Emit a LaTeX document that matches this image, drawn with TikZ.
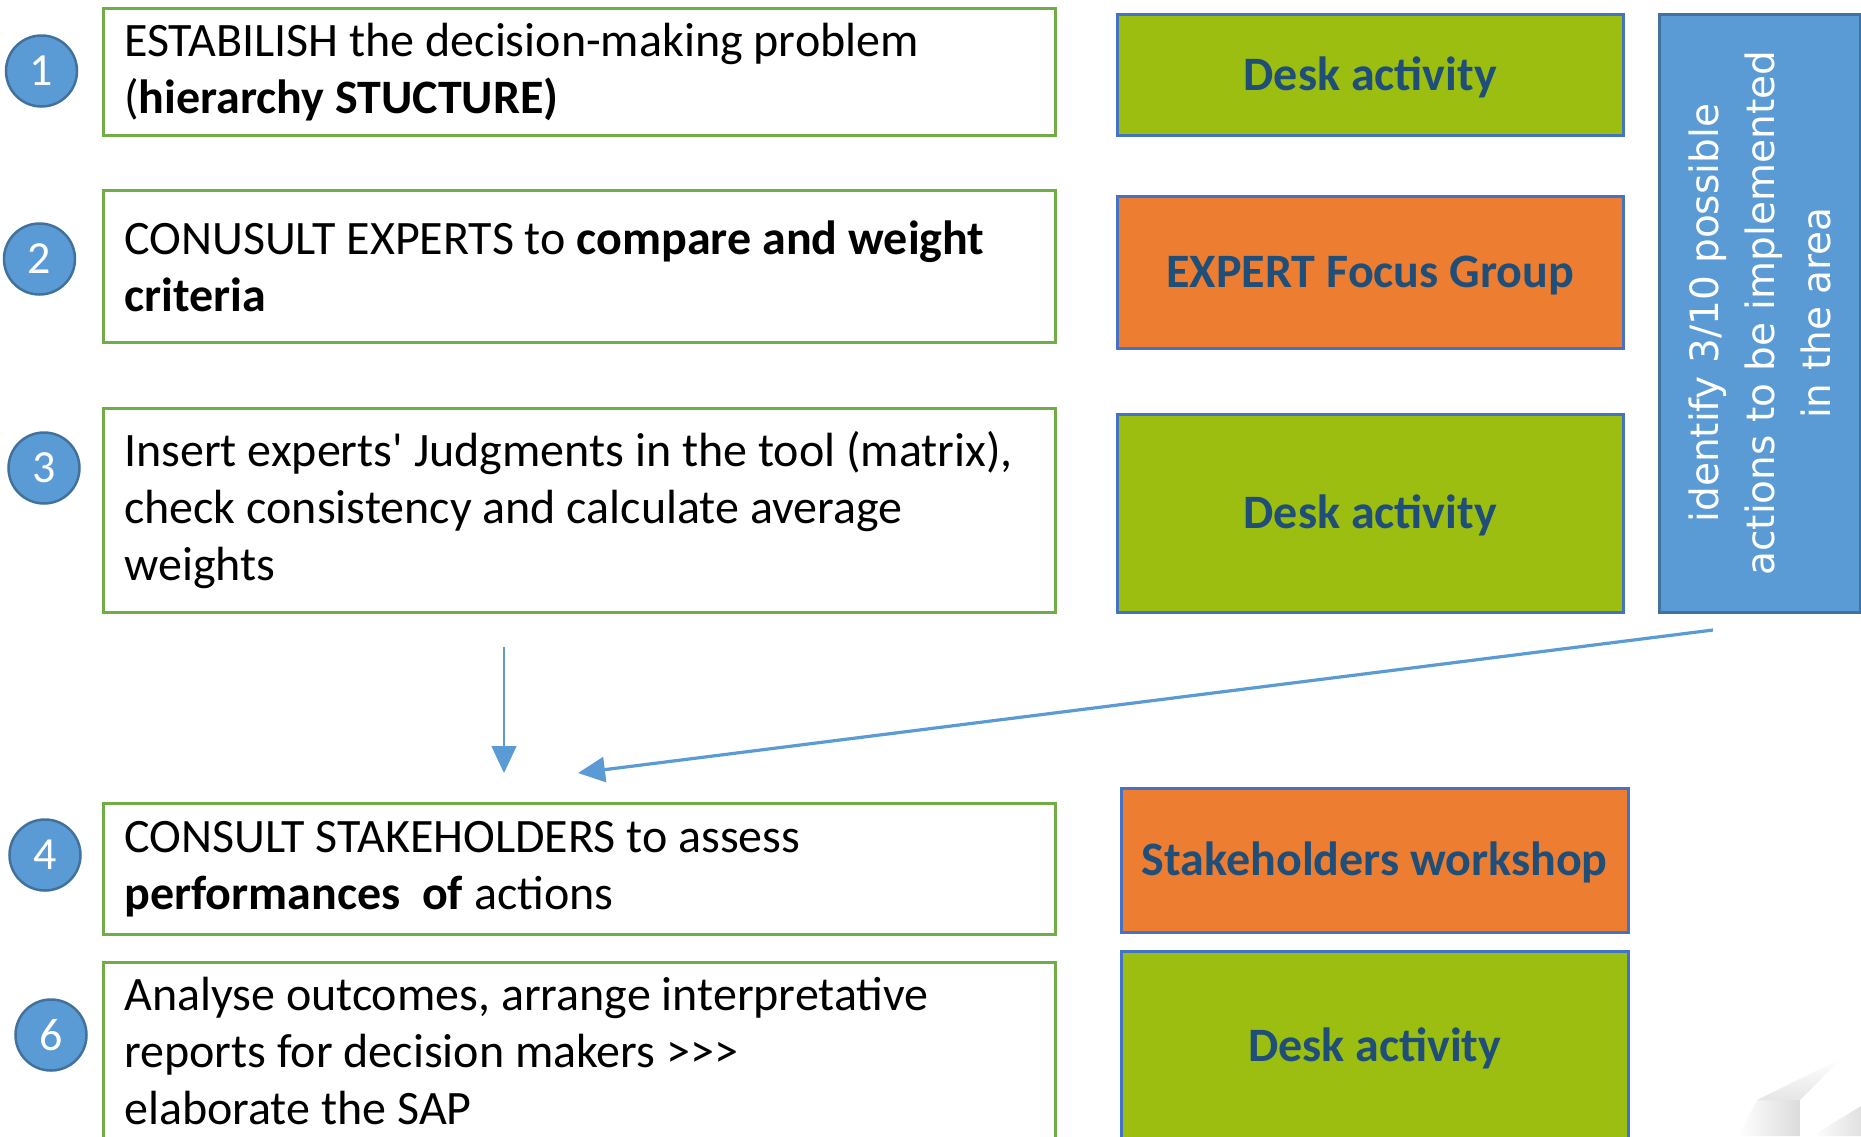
\documentclass[tikz,border=0pt]{standalone}
\usepackage{fontspec}
\setmainfont{Carlito}
\newfontfamily\vfont{DejaVu Sans}
\usetikzlibrary{arrows.meta}
\definecolor{lgreen}{HTML}{70AD47}
\definecolor{dgreen}{HTML}{9BBE10}
\definecolor{orng}{HTML}{ED7D31}
\definecolor{bfill}{HTML}{5B9BD5}
\definecolor{bdark}{HTML}{41719C}
\definecolor{bbord}{HTML}{4472C4}
\definecolor{dtext}{HTML}{1F4E79}
\newcommand\myspfix{\spaceskip=0pt\relax\xspaceskip=0pt\relax}
\newcommand\mylower{\par\vspace*{-6pt}}
\tikzset{
  stepbox/.style={draw=lgreen, line width=2.5pt, fill=white, align=flush left,
    text width=910pt, inner xsep=21pt, inner ysep=0pt, anchor=north west,
    font=\fontsize{48}{57}\selectfont},
  numcirc/.style={circle, fill=bfill, draw=bdark, line width=2.5pt,
    minimum size=71pt, inner sep=0pt, text=white,
    font=\fontsize{46}{50}\selectfont},
  actbox/.style={draw=bbord, line width=2.5pt, anchor=north west,
    inner sep=0pt, text=dtext, text height=36pt, text depth=5pt,
    font=\bfseries\fontsize{48}{56}\selectfont},
  bluebox/.style={draw=bdark, line width=2.5pt, fill=bfill, anchor=north west,
    inner sep=0pt},
  flowarrow/.style={draw=bfill, -{Triangle[length=27pt,width=25pt]}}
}
\begin{document}
\begin{tikzpicture}[x=1pt,y=-1pt]
\useasboundingbox (0,0) rectangle (1861,1136);
\begin{scope}
\clip (0,0) rectangle (1861,1136);
% faint corner mark
\shade[left color=white, right color=black!14] (1757,1100) -- (1800,1100) -- (1800,1136) -- (1738,1136) -- cycle;
\shade[bottom color=black!10, top color=white] (1757,1100) -- (1842,1058) -- (1800,1100) -- cycle;
\shade[left color=white, right color=black!12] (1812,1136) -- (1861,1106) -- (1861,1136) -- cycle;
% step boxes
\node[stepbox, minimum height=127pt] (s1) at (102,7)
  {\myspfix ESTABILISH the decision-making problem\\(\textbf{hierarchy STUCTURE)}\mylower};
\node[stepbox, minimum height=152pt] (s2) at (102,189)
  {\myspfix CONUSULT EXPERTS to \textbf{compare and weight}\\\textbf{criteria}\mylower};
\node[stepbox, minimum height=204pt] (s3) at (102,407)
  {\myspfix Insert experts\textquotesingle{} Judgments in the tool (matrix),\\check consistency and calculate average\\weights\mylower};
\node[stepbox, minimum height=131pt] (s4) at (102,802)
  {\myspfix CONSULT STAKEHOLDERS to assess\\\textbf{performances\ \ of} actions\mylower};
\node[stepbox, minimum height=177pt] (s6) at (102,961)
  {\myspfix Analyse outcomes, arrange interpretative\\reports for decision makers >{}>{}>\\elaborate the SAP};
% number circles
\node[numcirc] (n1) at (41.5,71) {1};
\node[numcirc] (n2) at (39.5,259) {2};
\node[numcirc] (n3) at (44,468) {3};
\node[numcirc] (n4) at (45,855) {4};
\node[numcirc] (n6) at (51,1035) {6};
% activity boxes
\node[actbox, fill=dgreen, minimum width=506pt, minimum height=121pt] (d1) at (1116,13) {Desk activity};
\node[actbox, fill=orng, minimum width=506pt, minimum height=152pt] (e1) at (1116,195) {EXPERT Focus Group};
\node[actbox, fill=dgreen, minimum width=506pt, minimum height=198pt] (d2) at (1116,413) {Desk activity};
\node[actbox, fill=orng, minimum width=507pt, minimum height=144pt] (w1) at (1120,787) {Stakeholders workshop};
\node[actbox, fill=dgreen, minimum width=507pt, minimum height=190pt] (d3) at (1120,950) {Desk activity};
% blue vertical box
\node[bluebox, minimum width=201pt, minimum height=598pt] (bb) at (1658,13) {};
\node[rotate=90, text=white, align=center, inner sep=0pt,
  font=\vfont\fontsize{39}{56}\selectfont] (bt) at (bb.center)
  {identify 3/10 possible\\actions to be implemented\\in the area};
% arrows
\coordinate (a1s) at (504,647);
\coordinate (a1e) at (504,773);
\coordinate (a2s) at (1713,630);
\coordinate (a2e) at (578,773);
\draw[flowarrow, line width=1.6pt] (a1s) -- (a1e);
\draw[flowarrow, line width=3.2pt] (a2s) -- (a2e);
\end{scope}
\end{tikzpicture}
\end{document}
